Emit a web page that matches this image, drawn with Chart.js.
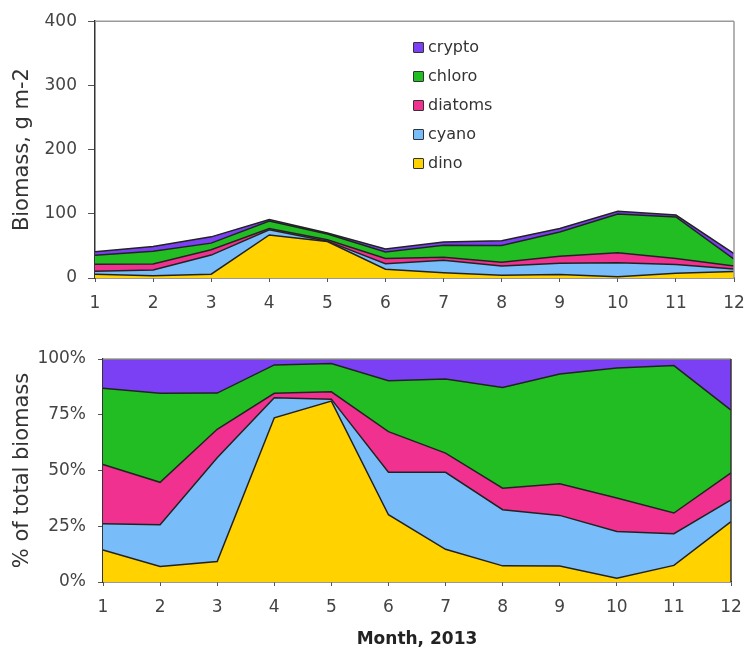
<!DOCTYPE html>
<html lang="en">
	<head>
		<meta charset="UTF-8" />
		<title>Phytoplankton biomass 2013</title>
		<script src="https://cdn.jsdelivr.net/npm/chart.js@4.4.1/dist/chart.umd.min.js"></script>
		<style>
			body { margin: 0; background: #fff; font-family: "DejaVu Sans", sans-serif; }
			#wrap { position: relative; width: 748px; height: 650px; }
			#top { position: absolute; left: 0; top: 0; }
			#bottom { position: absolute; left: 0; top: 330px; }
			#legend { position: absolute; left: 413px; top: 32px; font-size: 16px; color: #333; }
			#legend div { height: 29px; line-height: 29px; white-space: nowrap; }
			#legend span.box {
				display: inline-block; width: 9px; height: 9px; border: 1px solid #333;
				border-radius: 1px; margin-right: 4px; vertical-align: -1px;
			}
		</style>
	</head>

	<body>
		<div id="wrap">
			<canvas id="top" width="748" height="330"></canvas>
			<canvas id="bottom" width="748" height="320"></canvas>
			<div id="legend"></div>
		</div>

		<script>
			// months on x axis
			var months = ["1", "2", "3", "4", "5", "6", "7", "8", "9", "10", "11", "12"];

			// biomass, g m-2, stacked bottom to top
			var dinoBio = [5.9, 3.4, 5.9, 67, 56.8, 13.6, 8.2, 4.2, 5.5, 1.8, 7.3, 10.3];
			var cyanoBio = [4.8, 9.2, 29.8, 8.2, 0.6, 8.6, 19.3, 14.6, 17.5, 21.8, 13.9, 3.7];
			var diatomsBio = [10.9, 9.3, 8.2, 1.8, 2.3, 8.2, 4.8, 5.6, 10.9, 15.6, 9.1, 4.6];
			var chloroBio = [14.0, 19.6, 10.4, 11.6, 8.9, 10.3, 18.6, 26.2, 37.9, 60.6, 64.8, 10.7];
			var cryptoBio = [5.4, 7.5, 9.8, 2.4, 1.4, 4.4, 5.0, 7.4, 5.2, 4.2, 2.9, 8.7];

			var groups = [
				{ name: "dino", data: dinoBio, color: "#ffd200" },
				{ name: "cyano", data: cyanoBio, color: "#78bcf9" },
				{ name: "diatoms", data: diatomsBio, color: "#f0318f" },
				{ name: "chloro", data: chloroBio, color: "#22bd22" },
				{ name: "crypto", data: cryptoBio, color: "#7b40f4" },
			];

			var totals = months.map(function (m, i) {
				return groups.reduce(function (s, g) { return s + g.data[i]; }, 0);
			});

			var FONT = "DejaVu Sans";

			function makeSets(percent) {
				return groups.map(function (g, k) {
					return {
						label: g.name,
						data: percent
							? g.data.map(function (v, i) { return (v / totals[i]) * 100; })
							: g.data.slice(),
						backgroundColor: g.color,
						borderColor: "#222",
						borderWidth: 1.5,
						pointRadius: 0,
						tension: 0,
						fill: k === 0 ? "origin" : "-1",
					};
				});
			}

			// frame lines on top and right of the plot area
			var frame = {
				id: "frame",
				afterDatasetsDraw: function (chart, args, opts) {
					var a = chart.chartArea;
					var ctx = chart.ctx;
					ctx.save();
					ctx.lineWidth = 1.5;
					ctx.strokeStyle = "#9a9a9a";
					ctx.beginPath();
					ctx.moveTo(a.left, a.top);
					ctx.lineTo(a.right, a.top);
					ctx.stroke();
					ctx.strokeStyle = opts.right || "#9a9a9a";
					ctx.beginPath();
					ctx.moveTo(a.right, a.top);
					ctx.lineTo(a.right, a.bottom);
					ctx.stroke();
					ctx.restore();
				},
			};

			function options(cfg) {
				return {
					responsive: false,
					animation: false,
					layout: { padding: { top: cfg.padTop, right: cfg.padRight, left: 0, bottom: 0 } },
					plugins: {
						legend: { display: false },
						tooltip: { enabled: false },
						frame: { right: cfg.rightColor },
					},
					scales: {
						x: {
							offset: false,
							afterFit: function (s) { s.height = cfg.xHeight; },
							grid: { drawOnChartArea: false, tickLength: 4, color: "#555" },
							border: { color: "#333", width: 1.5 },
							ticks: {
								padding: 0,
								color: "#444",
								maxRotation: 0,
								autoSkip: false,
								font: { family: FONT, size: 17, lineHeight: 2.5 },
							},
							title: {
								display: !!cfg.xTitle,
								text: cfg.xTitle,
								color: "#222",
								padding: { top: 0, bottom: 0 },
								font: { family: FONT, size: 17, weight: "bold" },
							},
						},
						y: {
							stacked: true,
							min: 0,
							max: cfg.max,
							afterFit: function (s) { s.width = cfg.yWidth; },
							grid: { drawOnChartArea: false, tickLength: cfg.yTick, color: "#555" },
							border: { color: "#333", width: 1.5 },
							ticks: {
								stepSize: cfg.step,
								padding: cfg.yPad,
								color: "#444",
								font: { family: FONT, size: 17 },
								callback: cfg.fmt,
							},
							title: {
								display: true,
								text: cfg.yTitle,
								color: "#333",
								padding: { top: 10, bottom: 0 },
								font: { family: FONT, size: 21 },
							},
						},
					},
				};
			}

			new Chart(document.getElementById("top"), {
				type: "line",
				data: { labels: months, datasets: makeSets(false) },
				options: options({
					padTop: 18, padRight: 14, xHeight: 52, yWidth: 95, yTick: 7, yPad: 11,
					max: 400, step: 100, yTitle: "Biomass, g m-2",
					fmt: function (v) { return v; },
				}),
				plugins: [frame],
			});

			new Chart(document.getElementById("bottom"), {
				type: "line",
				data: { labels: months, datasets: makeSets(true) },
				options: options({
					padTop: 29, padRight: 17, xHeight: 68, yWidth: 103, yTick: 5, yPad: 12,
					max: 100, step: 25, yTitle: "% of total biomass", xTitle: "Month, 2013",
					rightColor: "#333",
					fmt: function (v) { return v + "%"; },
				}),
				plugins: [frame],
			});

			// legend, top series first
			var legend = document.getElementById("legend");
			groups.slice().reverse().forEach(function (g) {
				var row = document.createElement("div");
				row.innerHTML = '<span class="box" style="background:' + g.color + '"></span>' + g.name;
				legend.appendChild(row);
			});
		</script>
	</body>
</html>
